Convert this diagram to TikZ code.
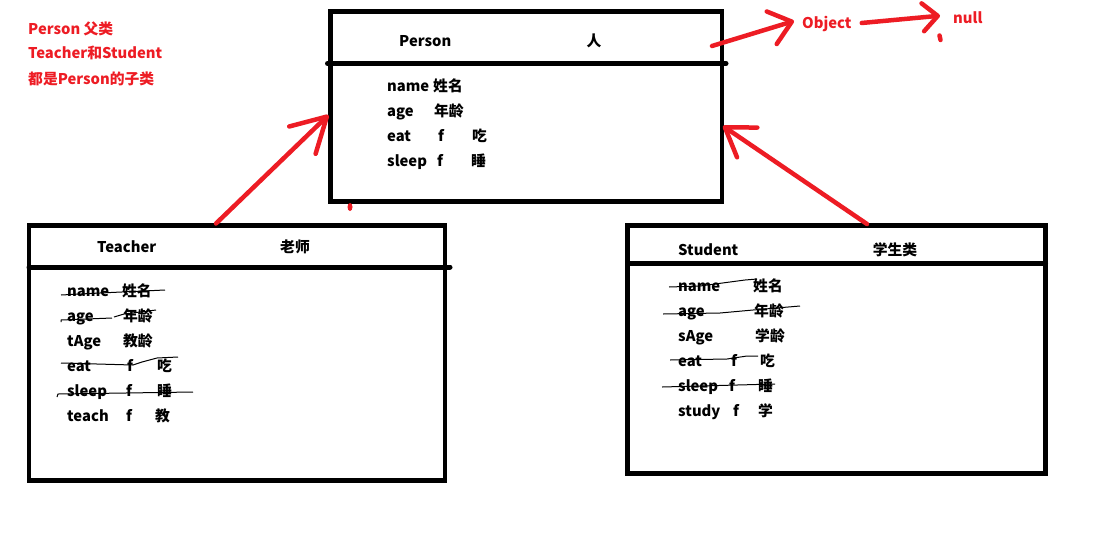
\documentclass[tikz,border=0pt]{standalone}
\usepackage{fontspec}
\setmainfont{Noto Sans CJK SC}
\usepackage{xcolor}
\usetikzlibrary{arrows.meta,calc}
\definecolor{paintred}{HTML}{ED1C24}

\begin{document}
\begin{tikzpicture}[x=1pt, y=-1pt,
  font=\bfseries\fontsize{14.8}{18}\selectfont,
  cls/.style={draw, line width=4.5pt, inner sep=0pt, outer sep=0pt},
  sep/.style={line width=5pt, line cap=round},
  txt/.style={inner sep=0pt, anchor=base west},
  hd/.style={inner sep=0pt, anchor=base},
  note/.style={txt, text=paintred},
  strike/.style={line width=1pt, line join=round},
  inh/.style={paintred, line width=4.5pt, line cap=round}]
\useasboundingbox (0,0) rectangle (1118,536);

% class boxes
\node[cls, minimum width=391.5pt, minimum height=190pt] (P) at (526.25,106.5) {};
\node[cls, minimum width=416pt, minimum height=255pt] (T) at (237,353) {};
\node[cls, minimum width=418pt, minimum height=248pt] (S) at (836.5,349.5) {};
\draw[sep] ($(P.west)+(-3,-43)$) -- ($(P.east)+(4,-43)$);
\draw[sep] ($(T.west)+(0,-86)$) -- ($(T.east)+(5,-86)$);
\draw[sep] ($(S.west)+(0,-86)$) -- ($(S.east)+(0,-86)$);

% headers
\node[txt] (Pname) at (399,46.5) {Person};
\node[hd] (Pcn) at (594,46.5) {人};
\node[txt] (Tname) at (97,252.5) {Teacher};
\node[hd] (Tcn) at (295,252.5) {老师};
\node[txt] (Sname) at (678,255.5) {Student};
\node[hd] (Scn) at (895,255.5) {学生类};

% Person members
\node[txt] (p1) at (387,91.5) {\makebox[46pt][l]{name}姓名};
\node[txt] (p2) at (387,116.5) {\makebox[47pt][l]{age}年龄};
\node[txt] (p3) at (387,141.5) {\makebox[51pt][l]{eat}\makebox[34pt][l]{f}吃};
\node[txt] (p4) at (387,166.5) {\makebox[50pt][l]{sleep}\makebox[34pt][l]{f}睡};

% Teacher members
\node[txt] (t1) at (67,296.5) {\makebox[55pt][l]{name}姓名};
\node[txt] (t2) at (67,321.5) {\makebox[56pt][l]{age}年龄};
\node[txt] (t3) at (67,346.5) {\makebox[56pt][l]{tAge}教龄};
\node[txt] (t4) at (67,371.5) {\makebox[60pt][l]{eat}\makebox[30pt][l]{f}吃};
\node[txt] (t5) at (67,396.5) {\makebox[59pt][l]{sleep}\makebox[31pt][l]{f}睡};
\node[txt] (t6) at (67,421.5) {\makebox[59pt][l]{teach}\makebox[29pt][l]{f}教};

% Student members
\node[txt] (s1) at (678,291.5) {\makebox[75pt][l]{name}姓名};
\node[txt] (s2) at (678,316.5) {\makebox[76pt][l]{age}年龄};
\node[txt] (s3) at (678,341.5) {\makebox[77pt][l]{sAge}学龄};
\node[txt] (s4) at (678,366.5) {\makebox[53pt][l]{eat}\makebox[29pt][l]{f}吃};
\node[txt] (s5) at (678,391.5) {\makebox[51pt][l]{sleep}\makebox[29pt][l]{f}睡};
\node[txt] (s6) at (678,416.5) {\makebox[55pt][l]{study}\makebox[25pt][l]{f}学};

% crossed out members
\draw[strike] (61,295) -- (100,293) -- (165,290);
\draw[strike] (61,322) -- (61,320) -- (112,318);
\draw[strike] (114,317) -- (124,314) -- (156,310);
\draw[strike] (61,363) -- (133,365) -- (142,362) -- (157,358) -- (178,357);
\draw[strike] (57,397) -- (58,394) -- (193,392);
\draw[strike] (669,287) -- (700,286) -- (745,280) -- (757,279);
\draw[strike] (663,314) -- (720,313) -- (753,310) -- (800,306);
\draw[strike] (670,360) -- (727,359) -- (747,356) -- (758,356);
\draw[strike] (662,387) -- (775,384);

% notes
\node[note] (n1) at (28,34.5) {Person 父类};
\node[note] (n2) at (28,58.5) {Teacher和Student};
\node[note] (n3) at (28,84.5) {都是Person的子类};
\node[note] (Obj) at (802,28.5) {Object};
\node[note] (nul) at (953,23.5) {null};

% inheritance
\draw[inh, -{Straight Barb[length=34pt, width=38pt, round]}]
  ($(T.north)+(-21,-2)$) -- ($(P.west)+(-2,8.5)$);
\draw[inh, -{Straight Barb[length=27pt, width=36pt, round]}]
  ($(S.north)+(30.5,-1.5)$) -- ($(P.east)+(1,19.5)$);
\draw[inh, -{Straight Barb[length=21pt, width=34pt, round]}]
  ($(P.north east)+(-10,34.5)$) -- ($(Obj.west)+(-8,-3)$);
\draw[inh, -{Straight Barb[length=15pt, width=28pt, round]}]
  ($(Obj.east)+(10,-1)$) -- ($(nul.west)+(-13,-2)$);
\fill[paintred] (350,207) ellipse (2.5pt and 4pt);
\draw[inh] (939.5,35.5) -- (940.5,40);
\end{tikzpicture}
\end{document}
